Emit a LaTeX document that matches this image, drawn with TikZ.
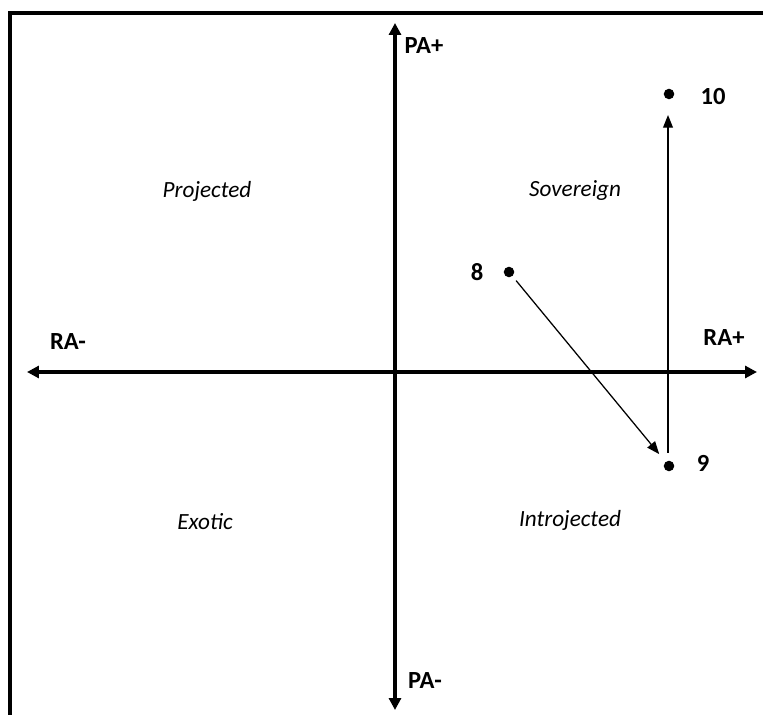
\documentclass[tikz,border=0pt]{standalone}
\usepackage{fontspec}
\setmainfont{Carlito}
\usetikzlibrary{arrows.meta}

\begin{document}
\begin{tikzpicture}[x=0.025cm, y=-0.025cm,
    axis/.style={line width=2.4pt, {Triangle[length=8.5pt,width=8.5pt]}-{Triangle[length=8.5pt,width=8.5pt]}},
    move/.style={line width=0.9pt, -{Triangle[length=9pt,width=7pt]}},
    dot/.style={circle, fill=black, inner sep=0pt, minimum size=7.5pt},
    axislabel/.style={font=\fontsize{17.5}{20}\selectfont\bfseries},
    quadrant/.style={font=\fontsize{16.5}{20}\selectfont\itshape}]
  \useasboundingbox (0,0) rectangle (763,715);
  % Frame (top and left edges only)
  \draw[line width=2.6pt] (10,715) -- (10,13) -- (763,13);
  % Axis end points
  \coordinate (top) at (395,23);
  \coordinate (bottom) at (395,710);
  \coordinate (left) at (27,372);
  \coordinate (right) at (757,372);
  % Axes
  \draw[axis] (bottom) -- (top);
  \draw[axis] (left) -- (right);
  % Axis labels
  \node[axislabel] (paplus) at (424,46) {PA+};
  \node[axislabel] (paminus) at (425,681) {PA-};
  \node[axislabel] (raminus) at (68,342) {RA-};
  \node[axislabel] (raplus) at (724,338) {RA+};
  % Quadrant names
  \node[quadrant] (proj) at (207,191) {Projected};
  \node[quadrant] (sov) at (575,191) {Sovereign};
  \node[quadrant] (exo) at (205,522) {Exotic};
  \node[quadrant] (intro) at (570,520) {Introjected};
  % Points
  \node[dot] (p8) at (509,272) {};
  \node[dot] (p9) at (669,466) {};
  \node[dot] (p10) at (669,94) {};
  \node[axislabel] (l8) at (477,272) {8};
  \node[axislabel] (l9) at (703,463) {9};
  \node[axislabel] (l10) at (713,97) {10};
  % Movements
  \draw[move, shorten <=4pt, shorten >=7pt] (p8) -- (p9);
  \draw[move, shorten <=5.5pt, shorten >=11pt] ([xshift=-0.7pt]p9.north) -- ([xshift=-0.7pt]p10.south);
\end{tikzpicture}
\end{document}
